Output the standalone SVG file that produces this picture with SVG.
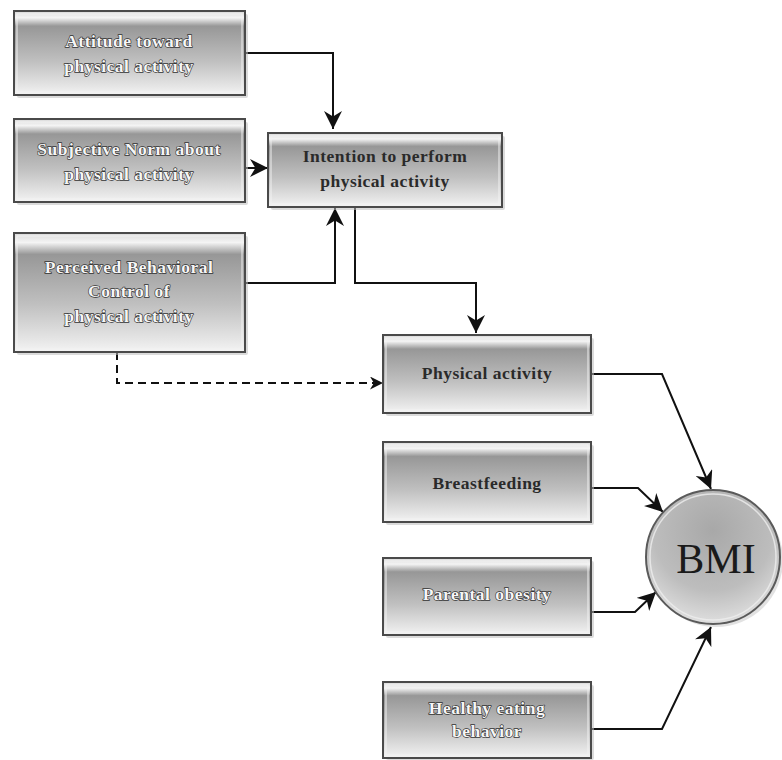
<svg xmlns="http://www.w3.org/2000/svg" width="782" height="760" viewBox="0 0 782 760">
<style>
.box{fill:url(#g);stroke:#4a4a4a;stroke-width:2}
.inner{fill:none;stroke:#f2f2f2;stroke-width:1.2;opacity:.8}
.sh{fill:#bdbdbd;opacity:.55}
.t{font-family:"Liberation Serif",serif;font-size:17.5px;text-anchor:middle;font-weight:bold;letter-spacing:0.5px}
.dk{fill:#2a2a2a}
.lt{fill:#f6f6f6;stroke:#333;stroke-width:1.3;paint-order:stroke}
.c{fill:none;stroke:#111;stroke-width:2}
.d{fill:none;stroke:#111;stroke-width:2;stroke-dasharray:8 5}
</style>
<defs>
<linearGradient id="g" x1="0" y1="0" x2="0" y2="1">
<stop offset="0" stop-color="#d9d9d9"/>
<stop offset="0.08" stop-color="#f4f4f4"/>
<stop offset="0.18" stop-color="#979797"/>
<stop offset="0.6" stop-color="#c0c0c0"/>
<stop offset="0.9" stop-color="#e6e6e6"/>
<stop offset="1" stop-color="#f4f4f4"/>
</linearGradient>
<radialGradient id="cg" cx="0.5" cy="0.3" r="0.75">
<stop offset="0" stop-color="#a8a8a8"/>
<stop offset="0.6" stop-color="#bdbdbd"/>
<stop offset="1" stop-color="#e6e6e6"/>
</radialGradient>
<marker id="a" viewBox="0 0 10 10" refX="10" refY="5" markerWidth="13" markerHeight="13" markerUnits="userSpaceOnUse" orient="auto">
<path d="M0,0 L10,5 L0,10 L3,5 Z" fill="#111"/>
</marker>
<marker id="A" viewBox="0 0 10 10" refX="10" refY="5" markerWidth="18" markerHeight="18" markerUnits="userSpaceOnUse" orient="auto">
<path d="M0,0 L10,5 L0,10 L3,5 Z" fill="#111"/>
</marker>
</defs>
<rect width="782" height="760" fill="#fff"/>

<g id="connectors">
<polyline class="c" points="245,53 333,53 333,129" marker-end="url(#A)"/>
<polyline class="c" points="245,168 268,168" marker-end="url(#A)"/>
<polyline class="c" points="245,283 335,283 335,208" marker-end="url(#A)"/>
<polyline class="c" points="355,207 355,283 476,283 476,333" marker-end="url(#A)"/>
<polyline class="d" points="117,352 117,383 383,383" marker-end="url(#a)"/>
<polyline class="c" points="591,374 662,374 711,489" marker-end="url(#A)"/>
<polyline class="c" points="591,488 638,488 663,512" marker-end="url(#A)"/>
<polyline class="c" points="591,612 635,612 656,592" marker-end="url(#A)"/>
<polyline class="c" points="591,729 662,729 711,627" marker-end="url(#A)"/>
</g>

<g id="attitude">
<rect class="sh" x="17" y="14" width="231" height="84" rx="2"/>
<rect class="box" x="14" y="11" width="231" height="84"/>
<rect class="inner" x="17" y="14" width="225" height="78"/>
<text class="t lt" x="129" y="47">Attitude toward</text>
<text class="t lt" x="129" y="72">physical activity</text>
</g>

<g id="subjective">
<rect class="sh" x="17" y="122" width="231" height="83" rx="2"/>
<rect class="box" x="14" y="119" width="231" height="83"/>
<rect class="inner" x="17" y="122" width="225" height="77"/>
<text class="t lt" x="129" y="155">Subjective Norm about</text>
<text class="t lt" x="129" y="180">physical activity</text>
</g>

<g id="intention">
<rect class="sh" x="271" y="136" width="234" height="74" rx="2"/>
<rect class="box" x="268" y="133" width="234" height="74"/>
<rect class="inner" x="271" y="136" width="228" height="68"/>
<text class="t dk" x="385" y="162">Intention to perform</text>
<text class="t dk" x="385" y="187">physical activity</text>
</g>

<g id="perceived">
<rect class="sh" x="17" y="236" width="231" height="119" rx="2"/>
<rect class="box" x="14" y="233" width="231" height="119"/>
<rect class="inner" x="17" y="236" width="225" height="113"/>
<text class="t lt" x="129" y="273">Perceived Behavioral</text>
<text class="t lt" x="129" y="297">Control of</text>
<text class="t lt" x="129" y="322">physical activity</text>
</g>

<g id="physical">
<rect class="sh" x="386" y="338" width="208" height="78" rx="2"/>
<rect class="box" x="383" y="335" width="208" height="78"/>
<rect class="inner" x="386" y="338" width="202" height="72"/>
<text class="t dk" x="487" y="379">Physical activity</text>
</g>

<g id="breastfeeding">
<rect class="sh" x="386" y="445" width="208" height="80" rx="2"/>
<rect class="box" x="383" y="442" width="208" height="80"/>
<rect class="inner" x="386" y="445" width="202" height="74"/>
<text class="t dk" x="487" y="489">Breastfeeding</text>
</g>

<g id="parental">
<rect class="sh" x="386" y="561" width="208" height="77" rx="2"/>
<rect class="box" x="383" y="558" width="208" height="77"/>
<rect class="inner" x="386" y="561" width="202" height="71"/>
<text class="t lt" x="487" y="600">Parental obesity</text>
</g>

<g id="healthy">
<rect class="sh" x="386" y="685" width="208" height="75" rx="2"/>
<rect class="box" x="383" y="682" width="208" height="76"/>
<rect class="inner" x="386" y="685" width="202" height="70"/>
<text class="t lt" x="487" y="714">Healthy eating</text>
<text class="t lt" x="487" y="737">behavior</text>
</g>

<g id="bmi">
<circle cx="716" cy="560" r="67" fill="#cfcfcf" opacity=".6"/>
<circle cx="713" cy="557" r="67" fill="url(#cg)" stroke="#5a5a5a" stroke-width="2"/>
<circle cx="713" cy="557" r="63" fill="none" stroke="#eeeeee" stroke-width="1.5" opacity=".8"/>
<text x="716" y="573" font-family="Liberation Serif,serif" font-size="42" text-anchor="middle" fill="#1a1a1a">BMI</text>
</g>
</svg>
